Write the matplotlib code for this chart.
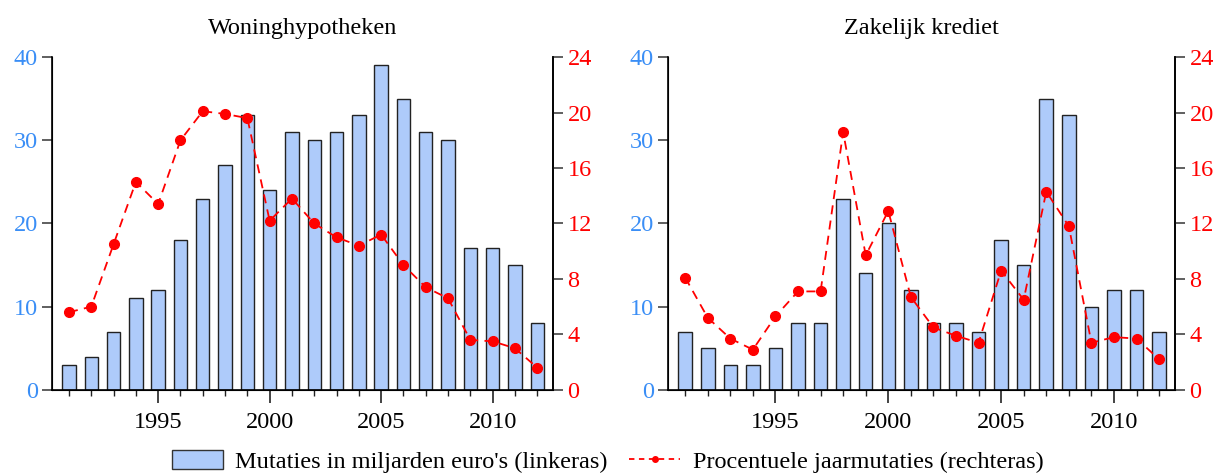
import numpy as np
import matplotlib
matplotlib.use("Agg")
import matplotlib.pyplot as plt
from matplotlib.patches import Patch
from matplotlib.lines import Line2D
from matplotlib.ticker import MultipleLocator

plt.rcParams['font.family'] = ['Liberation Serif', 'DejaVu Serif']

years = list(range(1991, 2013))

# Woninghypotheken
woning_bars = [3, 4, 7, 11, 12, 18, 23, 27, 33, 24, 31, 30, 31, 33, 39, 35, 31, 30, 17, 17, 15, 8]
woning_pct = [5.6, 6.0, 10.5, 15.0, 13.4, 18.0, 20.1, 19.9, 19.6, 12.2, 13.8, 12.0, 11.0, 10.4,
              11.2, 9.0, 7.4, 6.6, 3.6, 3.5, 3.0, 1.6]

# Zakelijk krediet
zakelijk_bars = [7, 5, 3, 3, 5, 8, 8, 23, 14, 20, 12, 8, 8, 7, 18, 15, 35, 33, 10, 12, 12, 7]
zakelijk_pct = [8.1, 5.2, 3.7, 2.9, 5.3, 7.1, 7.1, 18.6, 9.7, 12.9, 6.7, 4.5, 3.9, 3.4,
                8.6, 6.5, 14.3, 11.8, 3.4, 3.8, 3.7, 2.2]

titles = ["Woninghypotheken", "Zakelijk krediet"]
label_years = [1995, 2000, 2005, 2010]

bar_color = "#AECBFA"
blue = "#3A8EF6"
red = "#FF0000"
tick_col = "#444444"

fig = plt.figure(figsize=(12.15, 4.76), dpi=100)

positions = [[0.043, 0.181, 0.412, 0.699], [0.550, 0.181, 0.417, 0.699]]
data = [(woning_bars, woning_pct), (zakelijk_bars, zakelijk_pct)]

for pos, title, (bars, pct) in zip(positions, titles, data):
    ax = fig.add_axes(pos)
    ax.bar(years, bars, width=0.6, color=bar_color, edgecolor="#222222", linewidth=1.0, zorder=2)
    ax.set_ylim(0, 40)
    ax.set_xlim(1990.25, 2012.7)
    ax.yaxis.set_major_locator(MultipleLocator(10))
    ax.tick_params(axis='y', colors=tick_col, labelcolor=blue, labelsize=17.5, length=7,
                   width=1.2, direction='out')
    ax.set_xticks(label_years)
    ax.set_xticks(years, minor=True)
    ax.tick_params(axis='x', which='major', length=9, width=1.2, labelsize=17.5, pad=7,
                   direction='out', colors='#222222', labelcolor='black')
    ax.tick_params(axis='x', which='minor', length=4.5, width=1.0, direction='out', colors='#222222')
    ax.spines['top'].set_visible(False)
    for s in ['left', 'bottom', 'right']:
        ax.spines[s].set_linewidth(1.2)
    ax.set_title(title, fontsize=17.5, pad=17)

    ax2 = ax.twinx()
    ax2.plot(years, pct, color=red, linestyle=(0, (5, 3.5)), linewidth=1.3,
             marker='o', markersize=7, zorder=3)
    ax2.set_ylim(0, 24)
    ax2.yaxis.set_major_locator(MultipleLocator(4))
    ax2.tick_params(axis='y', colors=tick_col, labelcolor=red, labelsize=17.5, length=7,
                    width=1.2, direction='out')
    ax2.spines['top'].set_visible(False)
    ax2.spines['right'].set_linewidth(1.2)

handles = [Patch(facecolor=bar_color, edgecolor="#333333", linewidth=1.0),
           Line2D([], [], color=red, linestyle=(0, (3, 2.5)), linewidth=1.3, marker='o', markersize=4)]
fig.legend(handles, ["Mutaties in miljarden euro's (linkeras)", "Procentuele jaarmutaties (rechteras)"],
           loc='center', bbox_to_anchor=(0.5, 0.03), ncol=2, frameon=False, fontsize=17.5,
           handlelength=2.1, handleheight=0.8, columnspacing=0.9, handletextpad=0.5)

fig.savefig("out.png", dpi=100)
